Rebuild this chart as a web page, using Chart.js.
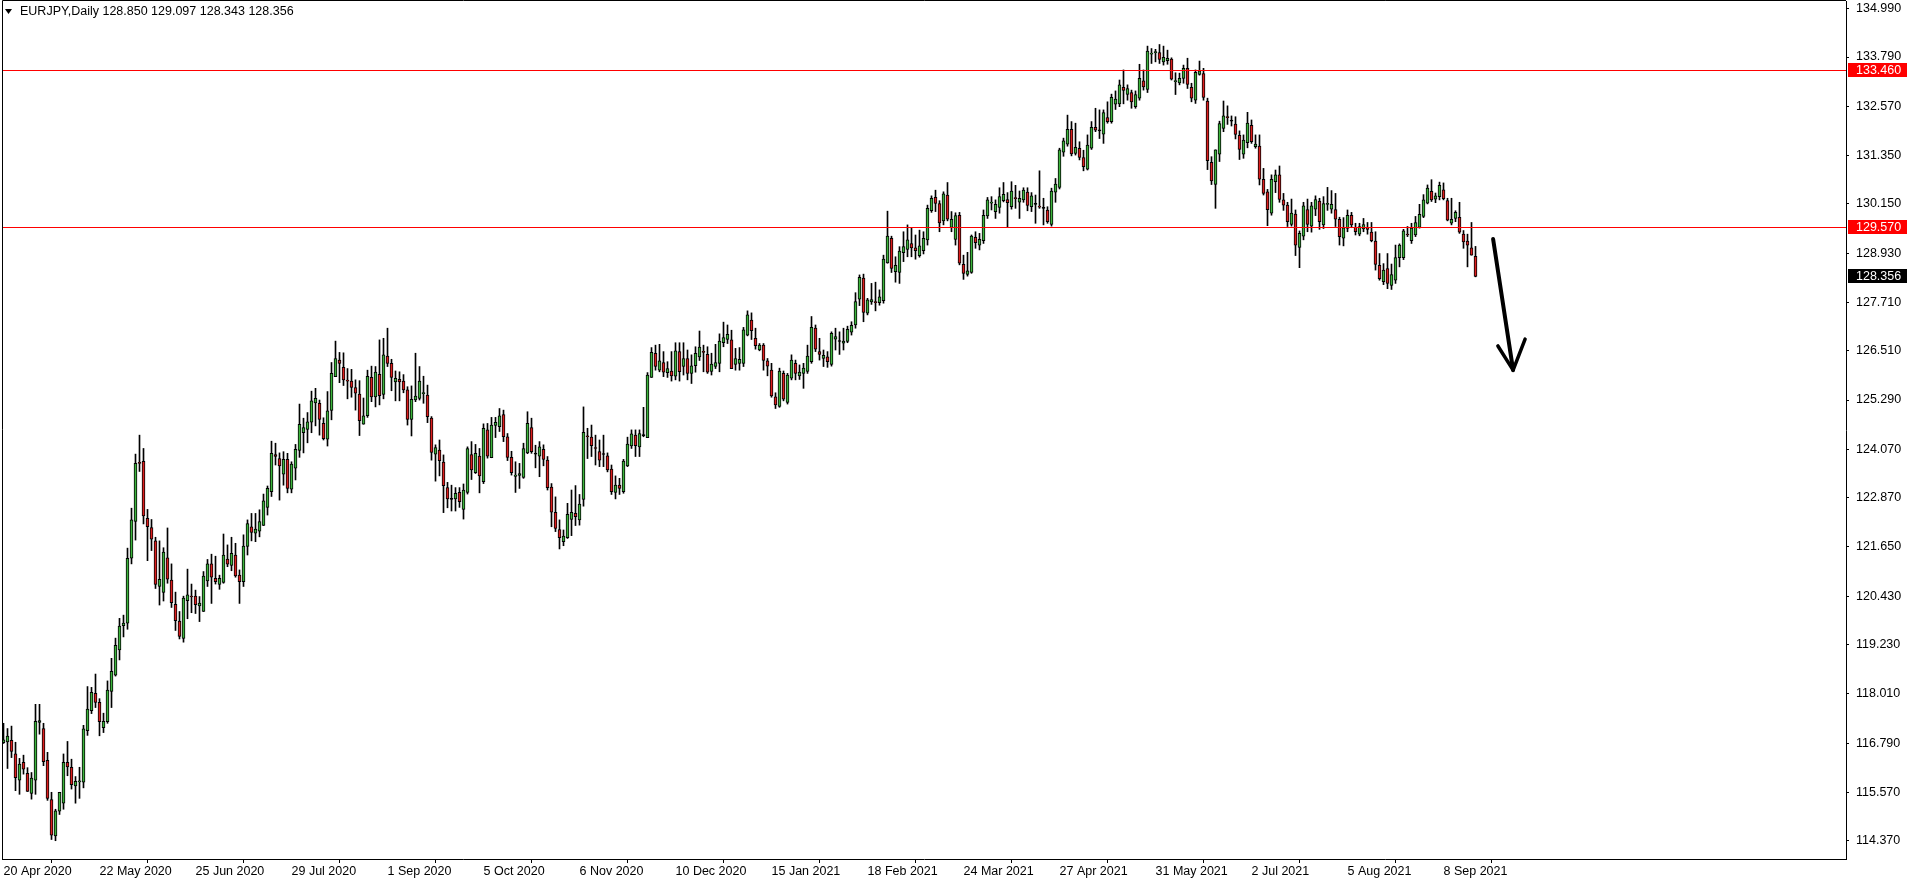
<!DOCTYPE html>
<html>
<head>
<meta charset="utf-8">
<title>EURJPY, Daily</title>
<script src="https://cdn.jsdelivr.net/npm/chart.js@4.4.1/dist/chart.umd.min.js"></script>
<style>
  html, body { margin: 0; padding: 0; background: #fff; }
  #wrap { width: 1916px; height: 884px; }
</style>
</head>
<body>
<div id="wrap"><canvas id="chart" width="1916" height="884"></canvas></div>
<script>
/* ==========================
   DATA (daily bars, 20 Apr 2020 .. 20 Sep 2021)
========================== */
const opens = [
  116.80,116.82,116.86,116.52,115.87,116.31,116.04,115.54,115.87,117.30,117.15,116.36,115.39,114.49,115.10,115.30,116.31,116.19,115.73,115.83,115.82,117.10,117.59,118.02,117.80,117.17,117.32,118.07,118.47,119.10,119.70,
  119.76,121.37,122.28,123.73,123.77,122.36,122.13,121.80,120.67,120.52,121.38,120.83,120.23,119.81,119.38,120.32,120.42,120.43,120.19,120.05,120.81,121.23,120.87,120.72,120.77,121.35,121.19,121.45,120.95,120.79,121.66,
  122.15,121.99,122.04,122.18,122.63,123.02,123.94,123.84,123.45,123.82,123.08,123.60,124.04,124.48,124.56,124.74,125.22,125.21,124.71,124.32,125.03,125.87,126.28,126.10,125.77,125.76,125.60,125.44,124.69,124.90,125.85,
  125.37,125.93,125.43,126.38,126.20,125.74,125.80,125.76,125.54,124.81,125.29,125.33,125.45,125.41,124.84,123.95,124.05,123.75,123.12,122.83,122.84,123.00,122.58,123.00,123.94,123.49,123.90,123.27,124.55,123.86,124.66,
  124.63,124.93,124.38,123.87,123.40,123.42,123.37,123.98,124.61,123.95,123.90,124.07,123.80,123.13,122.51,122.08,121.78,121.88,122.33,122.48,122.32,122.83,124.40,124.37,124.10,124.01,123.94,123.91,123.58,123.00,123.18,
  123.02,123.66,124.15,124.42,124.13,124.41,124.36,125.85,126.45,126.03,126.22,125.97,126.01,125.88,126.49,126.12,126.32,125.95,126.14,126.36,126.48,126.42,126.00,126.12,126.20,126.71,126.79,126.78,126.17,126.20,126.20,
  126.90,127.27,126.82,126.53,126.65,126.26,126.03,125.37,125.13,125.95,125.23,125.83,126.20,125.89,125.95,126.00,126.24,127.07,126.49,126.32,126.36,126.17,126.80,126.74,126.70,126.74,126.97,127.15,127.79,128.31,127.44,
  127.72,127.73,127.70,127.75,128.69,129.30,128.47,128.45,128.94,129.02,129.17,129.06,128.87,128.99,129.26,129.98,130.31,130.16,129.73,130.37,129.57,129.27,129.87,128.65,128.40,128.45,129.32,129.13,129.24,129.85,130.17,
  129.96,130.06,130.23,130.26,130.08,130.29,130.19,130.25,130.44,130.08,130.14,130.08,130.04,130.00,129.64,130.44,130.56,131.43,131.63,132.00,131.40,131.53,131.30,131.01,131.53,132.05,131.96,131.88,132.29,132.19,132.62,
  132.63,133.04,132.86,132.91,132.56,132.77,133.20,132.99,133.86,133.90,133.90,133.67,133.70,133.74,133.18,133.15,133.26,133.51,133.04,132.72,133.36,133.38,132.70,131.18,130.63,131.38,132.02,132.30,132.20,132.13,131.85,
  131.38,131.67,132.10,131.57,131.58,130.76,130.45,129.92,130.70,130.87,130.25,130.12,129.64,129.90,129.07,129.35,130.01,129.60,130.02,130.22,129.63,130.14,130.02,130.01,129.77,129.30,129.54,129.87,129.57,129.40,129.53,
  129.57,129.45,129.23,128.63,128.22,128.55,128.13,128.26,128.82,128.82,129.39,129.24,129.38,129.57,129.84,130.17,130.46,130.27,130.33,130.50,130.23,129.67,129.79,129.82,129.40,129.23,129.06,128.850
];
const highs = [
  117.28,117.15,117.21,116.81,116.41,116.49,116.18,116.06,117.75,117.75,117.28,116.56,115.57,115.15,115.57,116.52,116.83,116.39,115.96,116.19,117.23,118.19,118.17,118.50,117.89,117.53,118.33,118.89,119.39,119.88,119.96,
  121.62,122.61,123.95,124.42,124.09,122.58,122.33,121.89,121.80,121.63,122.12,121.23,120.53,120.05,120.43,121.10,120.73,120.58,120.42,121.04,121.34,121.47,121.42,120.95,121.97,121.70,121.89,121.74,121.08,121.95,122.32,
  122.48,122.48,122.57,122.96,123.16,124.27,124.22,123.98,124.01,123.97,123.76,124.19,125.19,124.84,124.98,125.51,125.58,125.29,124.85,125.50,126.22,126.75,126.47,126.46,126.07,126.05,125.79,125.77,125.34,126.03,126.13,
  126.12,126.78,126.82,127.07,126.30,126.01,125.99,125.92,125.62,125.64,126.45,126.12,125.88,125.66,124.88,124.18,124.30,123.93,123.25,123.18,123.12,123.12,123.21,124.13,124.26,124.19,124.09,124.70,124.71,124.86,124.86,
  125.08,125.04,124.46,124.02,123.76,123.72,124.22,125.00,124.84,124.17,124.26,124.18,123.89,123.22,122.89,122.32,122.07,122.73,123.06,123.17,122.95,125.12,124.59,124.67,124.42,124.30,124.42,123.98,123.68,123.41,123.35,
  123.82,124.37,124.55,124.55,124.55,125.11,125.97,126.59,126.65,126.67,126.49,126.24,126.49,126.71,126.71,126.71,126.53,126.41,126.61,127.00,126.65,126.61,126.45,126.67,126.93,127.22,127.15,127.02,126.57,126.59,127.09,
  127.50,127.45,127.07,126.69,126.69,126.32,126.20,125.47,126.08,126.01,125.95,126.41,126.28,126.16,126.20,126.65,127.36,127.15,126.82,126.53,126.49,126.98,127.07,126.98,127.07,127.12,127.23,127.95,128.39,128.41,127.81,
  128.18,128.21,128.02,128.88,129.97,129.35,128.84,129.09,129.46,129.63,129.57,129.38,129.50,129.46,130.12,130.35,130.49,130.23,130.45,130.68,129.96,129.93,129.94,128.88,128.95,129.38,129.46,129.42,130.00,130.31,130.33,
  130.25,130.55,130.68,130.43,130.70,130.61,130.47,130.55,130.55,130.43,130.37,130.97,130.29,130.08,130.54,130.78,131.53,131.78,132.35,132.19,132.15,131.69,131.48,131.86,132.19,132.52,132.48,132.48,132.68,132.87,132.95,
  133.22,133.47,133.10,132.97,132.95,133.61,133.47,134.06,134.00,133.98,134.10,134.06,133.96,133.77,133.40,133.39,133.59,133.76,133.14,133.47,133.69,133.51,132.77,131.32,131.49,132.20,132.70,132.58,132.33,132.31,131.96,
  131.86,132.42,132.23,131.86,131.86,131.03,130.51,130.87,130.99,131.09,130.41,130.19,130.27,130.00,129.48,130.19,130.27,130.19,130.35,130.29,130.33,130.56,130.48,130.41,129.82,129.81,130.00,129.94,129.67,129.67,129.79,
  129.69,129.69,129.46,128.92,128.67,128.92,128.66,129.13,129.16,129.52,129.59,129.67,129.84,130.14,130.38,130.62,130.75,130.42,130.69,130.67,130.29,130.29,129.98,130.19,129.49,129.40,129.69,129.097
];
const lows = [
  116.78,116.16,116.43,115.61,115.52,116.02,115.59,115.40,115.52,117.01,116.23,115.37,114.40,114.37,115.02,115.15,115.98,115.65,115.30,115.42,115.68,116.98,117.52,117.67,116.97,117.05,117.28,117.67,118.45,118.85,119.42,
  119.61,121.23,121.82,123.52,122.22,121.31,121.56,120.62,120.21,120.31,120.75,120.15,119.58,119.37,119.29,119.87,120.02,120.00,119.80,120.05,120.67,120.25,120.73,120.60,120.75,121.16,121.06,120.90,120.25,120.67,121.45,
  121.80,121.78,121.90,122.18,122.44,122.90,123.68,122.81,123.18,122.99,122.99,123.31,123.87,123.98,124.23,124.48,124.65,124.42,124.30,124.15,124.80,125.87,125.72,125.65,125.32,125.36,125.04,124.41,124.69,124.86,125.25,
  125.12,125.17,125.32,126.12,125.52,125.27,125.27,125.47,124.67,124.40,125.25,125.29,125.21,124.73,123.80,123.28,123.41,122.50,122.62,122.54,122.54,122.63,122.34,122.96,123.32,123.47,122.99,123.22,123.85,123.86,124.36,
  124.51,124.26,123.79,123.43,123.00,123.10,123.35,123.96,123.97,123.61,123.39,123.66,123.06,122.15,122.03,121.60,121.68,121.86,121.93,122.18,122.19,122.66,123.84,123.89,123.68,123.64,123.64,123.51,122.95,122.84,122.95,
  122.98,123.64,124.09,123.89,123.89,124.38,124.36,125.85,126.03,125.99,125.87,125.85,125.76,125.79,125.76,125.91,125.79,125.70,125.98,126.27,125.99,125.95,125.91,126.07,125.99,126.61,126.69,126.07,126.03,126.03,126.12,
  126.88,126.79,126.55,126.51,126.03,125.89,125.36,125.08,125.11,125.27,125.19,125.79,125.79,125.80,125.58,125.95,126.20,126.49,126.28,126.12,126.10,126.13,126.53,126.42,126.53,126.71,126.90,127.07,127.63,127.23,127.40,
  127.66,127.50,127.64,127.69,128.68,128.45,128.21,128.18,128.72,128.84,128.84,128.78,128.83,128.91,129.13,129.94,129.96,129.46,129.63,129.73,129.46,129.13,128.64,128.28,128.36,128.43,129.05,129.01,129.17,129.79,130.00,
  129.79,129.92,130.20,129.57,130.02,130.04,129.79,130.19,129.98,129.96,129.67,130.04,129.63,129.67,129.60,130.19,130.52,131.33,131.58,131.34,131.36,131.24,130.97,130.99,131.50,131.94,131.77,131.65,132.15,132.15,132.49,
  132.56,132.63,132.72,132.52,132.52,132.72,132.97,132.91,133.63,133.67,133.63,133.59,133.61,133.22,132.86,133.10,133.14,133.01,132.68,132.64,133.34,132.72,131.00,130.63,130.04,131.20,131.94,132.12,132.08,131.76,131.25,
  131.28,131.54,131.65,131.53,130.62,130.37,129.61,129.87,130.43,130.19,129.99,129.59,129.60,128.87,128.57,129.26,129.46,129.45,129.86,129.52,129.54,129.99,129.92,129.59,129.13,129.11,129.46,129.56,129.38,129.36,129.46,
  129.40,129.21,128.51,128.26,128.15,128.05,128.03,128.18,128.59,128.77,129.34,129.17,129.34,129.55,129.81,130.15,130.21,130.18,130.25,130.25,129.73,129.63,129.71,129.42,129.05,128.59,128.88,128.343
];
const closes = [
  116.87,116.96,116.58,115.93,116.27,116.14,115.59,115.92,117.33,117.35,116.33,115.42,114.51,115.11,115.57,116.31,116.20,115.76,115.84,115.85,117.14,117.63,118.05,117.80,117.32,117.33,118.10,118.57,119.21,119.69,119.76,
  121.37,122.32,123.72,123.72,122.42,122.15,121.84,120.72,120.85,121.52,120.85,120.27,119.82,119.43,120.38,120.46,120.41,120.22,120.26,120.93,121.23,120.90,120.79,120.87,121.45,121.22,121.49,120.93,120.79,121.67,122.23,
  122.01,122.09,122.28,122.79,123.10,123.97,123.89,123.66,123.82,123.10,123.70,124.07,124.69,124.61,124.75,125.27,125.33,124.81,124.33,125.02,125.95,126.32,126.20,125.79,125.76,125.60,125.46,124.78,124.90,125.88,125.37,
  125.98,125.40,126.41,126.20,125.85,125.83,125.74,125.54,124.81,125.31,125.39,125.76,125.46,124.88,123.99,124.11,123.79,123.17,122.84,122.83,122.98,122.77,123.06,124.09,123.56,123.97,123.41,124.59,123.90,124.67,124.74,
  124.90,124.38,123.87,123.49,123.43,123.47,124.09,124.71,124.01,123.95,124.13,123.82,123.12,122.51,122.11,121.88,121.92,122.46,122.51,122.40,122.71,124.49,124.38,124.16,124.09,123.80,123.94,123.56,123.02,123.18,123.10,
  123.78,124.20,124.45,124.16,124.46,124.41,125.91,126.47,126.12,126.26,125.98,126.07,125.89,126.51,125.99,126.32,125.95,126.14,126.45,126.60,126.47,125.98,126.18,126.22,126.75,126.84,126.92,126.07,126.32,126.30,127.03,
  127.40,127.01,126.64,126.65,126.27,126.13,125.39,125.17,126.01,125.31,125.91,126.28,125.95,125.98,126.08,126.38,127.09,126.55,126.42,126.40,126.24,126.94,126.86,126.74,126.75,127.04,127.14,127.73,128.33,127.46,127.77,
  127.78,127.70,127.85,128.78,129.35,128.55,128.63,128.98,129.09,129.26,129.06,128.99,129.11,129.30,130.04,130.29,130.16,129.68,130.40,129.77,129.77,129.86,128.68,128.43,128.49,129.35,129.19,129.27,129.87,130.25,130.19,
  130.14,130.33,130.39,130.18,130.47,130.28,130.29,130.49,130.11,130.35,130.14,130.07,130.04,129.71,130.47,130.64,131.49,131.71,132.00,131.39,131.55,131.30,131.07,131.61,132.05,131.98,131.96,132.41,132.19,132.79,132.75,
  133.10,132.96,133.01,132.68,132.86,133.26,133.05,133.94,133.87,133.91,133.73,133.78,133.76,133.24,133.19,133.26,133.51,133.11,132.77,133.41,133.45,132.79,131.22,130.72,131.49,132.14,132.33,132.29,132.20,131.87,131.50,
  131.73,132.15,131.69,131.63,130.76,130.41,130.01,130.76,130.87,130.26,130.12,129.71,129.92,129.13,129.42,130.10,129.64,130.10,130.26,129.71,130.16,130.15,130.14,129.77,129.34,129.56,129.87,129.63,129.46,129.59,129.64,
  129.52,129.24,128.65,128.30,128.51,128.18,128.40,128.82,129.13,129.48,129.38,129.55,129.69,129.89,130.25,130.54,130.25,130.35,130.61,130.28,129.75,129.77,129.94,129.45,129.21,129.13,128.88,128.356
];

// time axis: bar index of each label and its text
const tickBars = [0, 24, 48, 72, 96, 120, 144, 168, 192, 216, 240, 264, 288, 312, 336, 360];
const tickLabels = ["20 Apr 2020", "22 May 2020", "25 Jun 2020", "29 Jul 2020", "1 Sep 2020", "5 Oct 2020",
  "6 Nov 2020", "10 Dec 2020", "15 Jan 2021", "18 Feb 2021", "24 Mar 2021", "27 Apr 2021",
  "31 May 2021", "2 Jul 2021", "5 Aug 2021", "8 Sep 2021"];

// price axis labels
const priceTicks = [134.990, 133.790, 132.570, 131.350, 130.150, 128.930, 127.710, 126.510, 125.290,
  124.070, 122.870, 121.650, 120.430, 119.230, 118.010, 116.790, 115.570, 114.370];

// horizontal levels drawn on the chart
const levels = [133.460, 129.570];

// hand drawn arrow (bar index, price)
const arrowFrom = [372.4, 129.28];
const arrowTo = [377.4, 126.03];
const arrowWings = [[373.6, 126.63], [380.4, 126.80]];

const titleText = "EURJPY,Daily 128.850 129.097 128.343 128.356";

/* ==========================
   STYLE
========================== */
const FONT = "'Liberation Sans', Arial, sans-serif";
const FONT_SIZE = 12.5;
const BULL = "#3cb43c";
const BEAR = "#dc1e1e";
const LAST = closes[closes.length - 1];

const overlay = {
  id: "overlay",
  afterDatasetsDraw(chart) {
    const { ctx, chartArea: a, scales: { x, y } } = chart;
    ctx.save();

    // level lines
    ctx.strokeStyle = "#ff0000";
    ctx.lineWidth = 1;
    levels.forEach((v) => {
      const py = Math.round(y.getPixelForValue(v)) + 0.5;
      ctx.beginPath();
      ctx.moveTo(a.left, py);
      ctx.lineTo(a.right, py);
      ctx.stroke();
    });

    // arrow
    ctx.strokeStyle = "#000";
    ctx.lineWidth = 4;
    ctx.lineCap = "round";
    ctx.lineJoin = "round";
    const tx = x.getPixelForValue(arrowTo[0]);
    const ty = y.getPixelForValue(arrowTo[1]);
    ctx.beginPath();
    ctx.moveTo(x.getPixelForValue(arrowFrom[0]), y.getPixelForValue(arrowFrom[1]));
    ctx.lineTo(tx, ty);
    ctx.stroke();
    ctx.lineWidth = 3.5;
    ctx.beginPath();
    ctx.moveTo(x.getPixelForValue(arrowWings[0][0]), y.getPixelForValue(arrowWings[0][1]));
    ctx.lineTo(tx, ty);
    ctx.lineTo(x.getPixelForValue(arrowWings[1][0]), y.getPixelForValue(arrowWings[1][1]));
    ctx.stroke();

    ctx.restore();
  },
  afterDraw(chart) {
    const { ctx, chartArea: a, scales: { y } } = chart;
    ctx.save();

    // frame
    ctx.strokeStyle = "#000";
    ctx.lineWidth = 1;
    ctx.beginPath();
    ctx.moveTo(a.left + 0.5, a.bottom);
    ctx.lineTo(a.left + 0.5, a.top - 0.5);
    ctx.lineTo(a.right, a.top - 0.5);
    ctx.stroke();

    // price boxes on the axis
    ctx.font = FONT_SIZE + "px " + FONT;
    ctx.textBaseline = "middle";
    ctx.textAlign = "left";
    const boxes = levels.map((v) => ({ v, bg: "#ff0000" })).concat([{ v: LAST, bg: "#000000" }]);
    boxes.forEach((b) => {
      const py = Math.round(y.getPixelForValue(b.v));
      ctx.fillStyle = b.bg;
      ctx.fillRect(a.right + 2, py - 7, 59, 14);
      ctx.fillStyle = "#fff";
      ctx.fillText(b.v.toFixed(3), a.right + 10, py + 0.5);
    });

    // title
    ctx.fillStyle = "#000";
    ctx.beginPath();
    ctx.moveTo(5, 9);
    ctx.lineTo(12, 9);
    ctx.lineTo(8.5, 14);
    ctx.closePath();
    ctx.fill();
    ctx.fillText(titleText, 20, 12);

    ctx.restore();
  }
};

const bodyData = opens.map((o, i) => ({ x: i, y: [o, closes[i]] }));
const wickData = lows.map((l, i) => ({ x: i, y: [l, highs[i]] }));
const bodyColors = opens.map((o, i) => (closes[i] > o ? BULL : closes[i] < o ? BEAR : "#000"));

new Chart(document.getElementById("chart").getContext("2d"), {
  type: "bar",
  data: {
    datasets: [
      {
        label: "body",
        data: bodyData,
        backgroundColor: bodyColors,
        borderColor: "#000",
        borderWidth: 1,
        borderSkipped: false,
        barThickness: 3,
        minBarLength: 1,
        grouped: false,
        order: 0,
      },
      {
        label: "wick",
        data: wickData,
        backgroundColor: "#000",
        borderWidth: 0,
        barThickness: 1,
        grouped: false,
        order: 1,
      },
    ],
  },
  options: {
    responsive: false,
    animation: false,
    devicePixelRatio: 1,
    layout: { padding: { left: 2, top: 1, right: 0, bottom: 0 } },
    plugins: {
      legend: { display: false },
      tooltip: { enabled: false },
    },
    scales: {
      x: {
        type: "linear",
        min: -0.375,
        max: 460.625,
        offset: false,
        afterBuildTicks: (s) => { s.ticks = tickBars.map((v) => ({ value: v })); },
        afterFit: (s) => { s.height = 25; s.paddingLeft = 0; s.paddingRight = 0; },
        grid: { drawOnChartArea: false, drawTicks: true, tickLength: 4, color: "#000" },
        border: { display: true, color: "#000" },
        ticks: {
          align: "start",
          autoSkip: false,
          maxRotation: 0,
          padding: 1,
          color: "#000",
          font: { family: FONT, size: FONT_SIZE },
          callback: (v, i) => tickLabels[i],
        },
      },
      y: {
        position: "right",
        min: 113.917,
        max: 135.178,
        afterBuildTicks: (s) => { s.ticks = priceTicks.map((v) => ({ value: v })); },
        afterFit: (s) => { s.width = 70; s.paddingTop = 0; s.paddingBottom = 0; },
        grid: { drawOnChartArea: false, drawTicks: true, tickLength: 3, color: "#000" },
        border: { display: true, color: "#000" },
        ticks: {
          autoSkip: false,
          padding: 7,
          color: "#000",
          font: { family: FONT, size: FONT_SIZE },
          callback: (v) => Number(v).toFixed(3),
        },
      },
    },
  },
  plugins: [overlay],
});
</script>
</body>
</html>
